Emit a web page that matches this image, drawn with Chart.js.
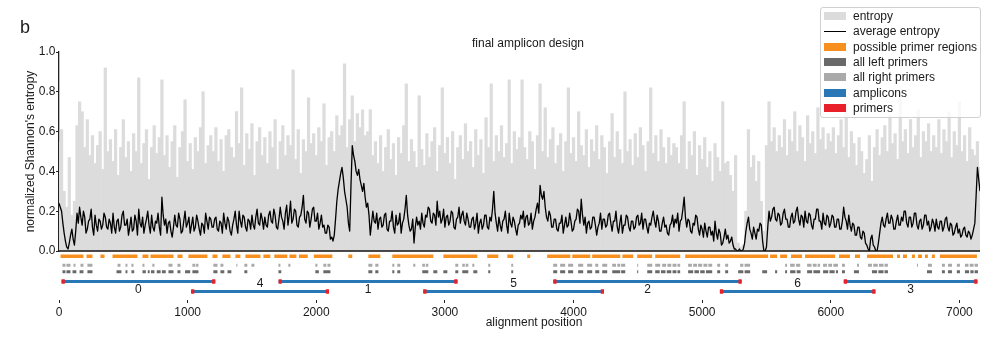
<!DOCTYPE html>
<html>
<head>
<meta charset="utf-8">
<title>final amplicon design</title>
<script src="https://cdn.jsdelivr.net/npm/chart.js@4/dist/chart.umd.min.js"></script>
<style>
  html, body { margin: 0; background: #fff; }
  #wrap { position: relative; width: 1006px; height: 340px; }
  #legend {
    position: absolute; left: 820px; top: 7px; width: 161px; height: 111px;
    box-sizing: border-box; padding: 0.5px 0 0 3px;
    border: 1px solid #d0d0d0; border-radius: 3px;
    background: rgba(255, 255, 255, 0.8);
    font: 12px 'Liberation Sans', Arial, sans-serif; color: #1a1a1a;
  }
  #legend .item { height: 15.33px; display: flex; align-items: center; white-space: nowrap; }
  #legend .swatch { display: inline-block; width: 22px; height: 8px; margin-right: 7px; }
  #legend .swatch.line { height: 1.4px; }
</style>
</head>
<body>
<div id="wrap"><canvas id="chart"></canvas><div id="legend"></div></div>
<script>
'use strict'

// entropy is binned: one value per 20 alignment positions
const binSize = 20
// the running average is sampled every 10 positions
const averageStep = 10

// normalized Shannon's entropy per bin (x100)
const entropy = [
  55, 61, 30, 22, 47, 18, 25, 63, 75, 70, 52, 66, 48, 58, 44, 53, 60, 41, 92, 50,
  56, 45, 61, 38, 52, 66, 47, 55, 40, 59, 50, 87, 44, 54, 61, 36, 52, 63, 49, 57,
  86, 48, 58, 42, 55, 63, 37, 52, 60, 76, 45, 54, 41, 57, 50, 62, 80, 44, 53, 58,
  50, 62, 45, 56, 40, 58, 61, 52, 47, 70, 54, 82, 43, 59, 51, 64, 38, 55, 62, 48,
  57, 44, 60, 52, 66, 41, 55, 63, 48, 58, 53, 91, 46, 61, 39, 56, 50, 77, 54, 59,
  48, 62, 55, 74, 43, 57, 60, 50, 68, 58, 63, 94, 52, 66, 78, 55, 69, 62, 71, 58,
  60, 71, 48, 55, 44, 58, 40, 52, 61, 46, 54, 38, 57, 49, 63, 84, 45, 56, 50, 42,
  78, 51, 43, 59, 47, 55, 62, 40, 53, 82, 49, 57, 44, 60, 36, 52, 58, 46, 64, 50,
  55, 42, 61, 48, 56, 39, 67, 52, 84, 45, 58, 50, 63, 47, 54, 86, 44, 60, 51, 57,
  86, 52, 46, 60, 55, 41, 58, 84, 50, 72, 47, 56, 62, 44, 53, 59, 40, 55, 82, 49,
  57, 45, 70, 53, 48, 61, 42, 56, 50, 63, 46, 58, 52, 39, 55, 69, 47, 60, 51, 44,
  80, 50, 56, 43, 59, 47, 62, 53, 40, 55, 82, 49, 58, 45, 61, 52, 44, 57, 48, 54,
  52, 44, 58, 75, 41, 55, 48, 60, 38, 53, 46, 57, 42, 50, 35, 54, 47, 40, 75, 44,
  45, 38, 30, 48, 4, 2, 3, 20, 61, 42, 48, 35, 45, 25, 10, 53, 75, 55, 62, 50,
  58, 52, 66, 48, 61, 55, 70, 50, 63, 57, 45, 68, 54, 60, 49, 72, 56, 62, 51, 59,
  55, 62, 49, 58, 66, 52, 74, 47, 60, 54, 43, 57, 50, 39, 46, 58, 35, 52, 61, 48,
  57, 63, 50, 68, 54, 59, 46, 80, 55, 61, 49, 66, 52, 58, 71, 47, 60, 55, 64, 50,
  58, 52, 66, 49, 61, 55, 70, 47, 60, 53, 75, 50, 58, 45, 62, 51, 48, 55, 42,
]

// running average of the entropy (x100), one row = 400 positions
const averageEntropy = [
  24, 22, 20, 14, 9, 5, 2, 1, 4, 8, 11, 6, 3, 10, 19, 14, 22, 17, 13, 20, 17, 9, 11, 15, 16, 21, 12, 8, 18, 13, 10, 16, 15, 11, 13, 19, 17, 12, 11, 16,
  14, 9, 19, 12, 9, 15, 16, 10, 12, 18, 20, 13, 13, 16, 8, 12, 17, 10, 11, 18, 15, 8, 21, 14, 12, 17, 9, 13, 16, 20, 13, 9, 18, 12, 10, 15, 14, 19, 12, 8,
  27, 18, 13, 16, 9, 14, 15, 10, 7, 12, 18, 13, 12, 19, 16, 9, 10, 15, 20, 12, 14, 17, 9, 13, 17, 10, 12, 18, 15, 11, 8, 14, 13, 9, 19, 15, 11, 17, 16, 12,
  12, 16, 17, 11, 10, 15, 14, 9, 19, 14, 11, 17, 15, 10, 8, 13, 16, 20, 13, 9, 20, 15, 12, 18, 17, 12, 10, 16, 15, 11, 18, 13, 11, 17, 21, 14, 13, 19, 16, 11,
  17, 13, 12, 18, 20, 15, 14, 21, 18, 12, 11, 16, 22, 17, 15, 11, 19, 23, 13, 18, 25, 14, 16, 21, 20, 13, 12, 17, 18, 22, 28, 16, 14, 20, 19, 12, 16, 21, 22, 15,
  15, 19, 11, 14, 18, 12, 13, 9, 9, 13, 12, 6, 7, 5, 8, 16, 25, 31, 35, 39, 42, 37, 30, 26, 22, 14, 10, 33, 53, 48, 45, 40, 38, 41, 36, 33, 30, 34, 27, 22,
  24, 18, 8, 14, 20, 15, 14, 19, 11, 16, 17, 12, 13, 18, 19, 11, 10, 15, 15, 20, 12, 9, 18, 13, 14, 19, 9, 14, 16, 21, 28, 18, 13, 10, 11, 16, 4, 12, 17, 13,
  15, 11, 19, 14, 12, 18, 17, 22, 21, 15, 14, 19, 18, 13, 25, 17, 20, 14, 16, 21, 12, 17, 18, 13, 15, 20, 19, 12, 11, 16, 17, 22, 14, 18, 20, 15, 13, 19, 16, 12,
  12, 16, 17, 11, 14, 19, 9, 14, 16, 11, 13, 18, 18, 12, 11, 17, 15, 21, 30, 19, 14, 10, 17, 13, 10, 15, 16, 20, 13, 9, 19, 14, 12, 17, 15, 11, 8, 13, 14, 18,
  16, 20, 12, 17, 18, 13, 14, 19, 11, 15, 17, 21, 24, 19, 33, 28, 26, 30, 22, 17, 15, 20, 18, 12, 12, 16, 16, 11, 10, 14, 14, 18, 9, 13, 17, 12, 13, 19, 15, 10,
  11, 15, 16, 21, 20, 14, 26, 18, 13, 17, 9, 14, 15, 11, 12, 17, 17, 13, 8, 12, 14, 19, 11, 16, 16, 12, 13, 18, 19, 14, 10, 15, 15, 20, 12, 9, 14, 18, 9, 13,
  13, 18, 17, 12, 10, 15, 15, 11, 12, 17, 18, 13, 14, 19, 11, 16, 16, 12, 9, 14, 13, 17, 20, 15, 12, 18, 15, 10, 10, 14, 17, 12, 13, 9, 8, 13, 14, 18, 12, 16,
  14, 19, 10, 15, 16, 21, 27, 17, 12, 16, 15, 10, 9, 14, 13, 18, 17, 11, 8, 13, 11, 7, 14, 10, 7, 12, 12, 8, 10, 5, 15, 9, 6, 11, 9, 3, 4, 7, 11, 6,
  8, 4, 5, 7, 3, 1, 1, 0, 0, 1, 0, 0, 1, 4, 10, 14, 17, 11, 9, 6, 12, 9, 6, 11, 10, 14, 13, 5, 0, 0, 2, 12, 20, 15, 17, 21, 22, 16, 15, 19,
  18, 13, 14, 19, 21, 16, 16, 12, 12, 17, 19, 14, 15, 20, 22, 16, 13, 18, 17, 12, 20, 15, 14, 19, 18, 13, 11, 16, 16, 21, 21, 15, 15, 11, 19, 14, 13, 18, 17, 12,
  14, 18, 17, 12, 12, 16, 16, 11, 11, 15, 22, 17, 15, 11, 18, 13, 10, 14, 13, 8, 8, 12, 12, 7, 6, 10, 9, 4, 3, 1, 0, 6, 8, 3, 2, 0, 0, 4, 9, 14,
  17, 13, 12, 16, 19, 14, 14, 18, 16, 11, 11, 15, 18, 13, 13, 17, 15, 20, 20, 14, 12, 17, 17, 12, 14, 19, 19, 13, 11, 15, 16, 11, 13, 18, 18, 13, 15, 10, 12, 16,
  14, 10, 16, 12, 11, 15, 15, 10, 12, 16, 17, 12, 10, 14, 13, 8, 9, 12, 14, 9, 11, 7, 8, 11, 12, 8, 7, 10, 9, 6, 8, 11, 14, 28, 42, 36, 30,
]

// [start, end] in alignment positions
const primerRegions = [
  [12, 190], [214, 260], [322, 354], [416, 610], [649, 695], [711, 890], [921, 960],
  [1006, 1154], [1193, 1232], [1270, 1333], [1371, 1410], [1449, 1566], [1589, 1643],
  [1674, 1775], [1791, 1845], [1865, 1934], [1981, 2125], [2249, 2280], [2405, 2498],
  [2591, 2910], [2988, 3252], [3329, 3415], [3485, 3531], [3640, 3663], [3795, 3975],
  [3990, 4130], [4145, 4363], [4380, 4464], [4495, 4611], [4635, 4829], [4868, 5513],
  [5528, 5583], [5606, 5660], [5691, 5777], [5800, 6033], [6064, 6149], [6188, 6227],
  [6282, 6484], [6515, 6538], [6561, 6592], [6631, 6654], [6678, 6709], [6732, 6755],
  [6786, 6809], [6848, 7136],
]

const leftPrimers = [
  [27, 50], [58, 89], [105, 135], [160, 190], [221, 260], [447, 485], [517, 532], [563, 585],
  [649, 675], [690, 705], [715, 742], [760, 790], [800, 830], [851, 890], [921, 944], [980, 1020],
  [1037, 1084], [1200, 1232], [1255, 1285], [1310, 1340], [1441, 1464], [1706, 1728], [1993, 2020],
  [2055, 2110], [2405, 2436], [2459, 2483], [2591, 2607], [2630, 2653], [2824, 2871], [2910, 2941],
  [2988, 3019], [3081, 3104], [3135, 3182], [3221, 3252], [3337, 3353], [3516, 3531], [3842, 3873],
  [3896, 3935], [3958, 3997], [4036, 4075], [4106, 4145], [4169, 4200], [4223, 4262], [4301, 4363],
  [4370, 4402], [4495, 4503], [4573, 4612], [4635, 4670], [4680, 4715], [4725, 4760], [4770, 4800],
  [4808, 4829], [4891, 4930], [4940, 4975], [4985, 5020], [5030, 5078], [5117, 5140], [5179, 5202],
  [5280, 5320], [5330, 5373], [5467, 5505], [5567, 5583], [5645, 5660], [5684, 5725], [5735, 5765],
  [5816, 5855], [5865, 5917], [5940, 5980], [5990, 6030], [6040, 6056], [6087, 6110], [6180, 6219],
  [6320, 6360], [6370, 6410], [6418, 6444], [6748, 6786], [6864, 6887], [6911, 6942], [6980, 7004],
  [7043, 7075], [7085, 7110], [7118, 7144],
]

const rightPrimers = [
  [27, 50], [58, 89], [113, 128], [167, 190], [221, 260], [455, 478], [517, 532], [563, 579],
  [649, 664], [726, 742], [851, 882], [921, 944], [1037, 1060], [1066, 1084], [1200, 1232],
  [1255, 1278], [1379, 1387], [1441, 1464], [1496, 1519], [1706, 1721], [1783, 1799], [1993, 2009],
  [2055, 2078], [2087, 2110], [2405, 2436], [2459, 2483], [2591, 2607], [2630, 2653], [2754, 2770],
  [2824, 2845], [2852, 2871], [3081, 3104], [3135, 3155], [3162, 3182], [3213, 3229], [3337, 3353],
  [3516, 3531], [3842, 3873], [3896, 3935], [3958, 3997], [4036, 4075], [4106, 4145], [4169, 4192],
  [4223, 4262], [4301, 4330], [4340, 4363], [4370, 4402], [4495, 4503], [4573, 4612], [4635, 4674],
  [4689, 4720], [4730, 4760], [4770, 4800], [4808, 4829], [4891, 4920], [4930, 4960], [4968, 5000],
  [5010, 5040], [5048, 5078], [5117, 5140], [5179, 5202], [5295, 5320], [5330, 5373], [5645, 5660],
  [5684, 5720], [5730, 5762], [5816, 5850], [5860, 5890], [5898, 5917], [5940, 5970], [5980, 6010],
  [6020, 6056], [6087, 6110], [6204, 6219], [6289, 6320], [6330, 6365], [6375, 6410], [6418, 6444],
  [6670, 6678], [6755, 6786], [6864, 6887], [6911, 6942], [6980, 7004], [7043, 7070], [7080, 7110],
  [7118, 7144],
]

// amplicons sorted by start, they alternate between two rows
const ampliconNames = ['0', '4', '1', '5', '2', '6', '3']
const ampliconStart = [20, 1027, 1707, 2832, 3843, 5138, 6101]
const ampliconEnd = [1215, 2099, 3098, 4237, 5307, 6347, 7140]
const primerLength = 25

const xTickValues = [0, 1000, 2000, 3000, 4000, 5000, 6000, 7000]
const yTickValues = [0, 0.2, 0.4, 0.6, 0.8, 1.0]

// track rows, in pixels below the zero line (scale 'yt')
const TRACK = {
  regions: 5.3,
  right: 14.3,
  left: 20.7,
  amplicon: [30.5, 40.5],
  label: [38.3, 32.7],
}

const FONT = "'Liberation Sans', Arial, sans-serif"
const TEXT = '#1a1a1a'

function spanPoints(spans, levelOf) {
  const pts = []
  spans.forEach((span, i) => {
    const level = typeof levelOf === 'function' ? levelOf(i) : levelOf
    pts.push({ x: span[0], y: level }, { x: span[1], y: level }, { x: span[1], y: null })
  })
  return pts
}

const positions = entropy.map((_, i) => i * binSize)
const averagePositions = averageEntropy.map((_, i) => i * averageStep)
const ampliconSpans = ampliconStart.map((s, i) => [s, ampliconEnd[i]])
const primerSpans = []
const primerRows = []
ampliconSpans.forEach(([s, e], i) => {
  primerSpans.push([s, s + primerLength], [e - primerLength, e])
  primerRows.push(i % 2, i % 2)
})

const trackLine = {
  type: 'line',
  yAxisID: 'yt',
  pointRadius: 0,
  pointHitRadius: 0,
  borderCapStyle: 'butt',
  spanGaps: false,
  fill: false,
  tension: 0,
}

// zero line, figure label, titles and amplicon numbers
const annotations = {
  id: 'annotations',
  afterDatasetsDraw(chart) {
    const { ctx, chartArea, scales } = chart
    const { x, y, yt } = scales
    ctx.save()
    const y0 = y.getPixelForValue(0)
    ctx.strokeStyle = '#111'
    ctx.lineWidth = 1.5
    ctx.beginPath()
    ctx.moveTo(chartArea.left, y0)
    ctx.lineTo(chartArea.right, y0)
    ctx.stroke()

    ctx.fillStyle = TEXT
    ctx.font = '12px ' + FONT
    ctx.textAlign = 'center'
    ctx.textBaseline = 'middle'
    ampliconNames.forEach((name, i) => {
      const mid = (ampliconStart[i] + ampliconEnd[i]) / 2
      ctx.fillText(name, x.getPixelForValue(mid), yt.getPixelForValue(TRACK.label[i % 2]))
    })
    ctx.restore()
  },
  afterDraw(chart) {
    const { ctx } = chart
    ctx.save()
    ctx.fillStyle = TEXT
    ctx.textAlign = 'left'
    ctx.textBaseline = 'alphabetic'
    ctx.font = '18px ' + FONT
    ctx.fillText('b', 20, 33)
    ctx.textAlign = 'center'
    ctx.textBaseline = 'middle'
    ctx.font = '12px ' + FONT
    ctx.fillText('final amplicon design', 528, 44)
    ctx.fillText('alignment position', 534, 323)
    ctx.restore()
  },
}

// legend as html, laid over the plot like the original
const htmlLegend = {
  id: 'htmlLegend',
  afterUpdate(chart) {
    const box = document.getElementById('legend')
    box.innerHTML = ''
    chart.data.datasets.forEach((ds) => {
      const item = document.createElement('div')
      item.className = 'item'
      const swatch = document.createElement('span')
      swatch.className = ds.legendLine ? 'swatch line' : 'swatch'
      swatch.style.background = ds.type === 'bar' ? ds.backgroundColor : ds.borderColor
      const text = document.createElement('span')
      text.textContent = ds.label
      item.append(swatch, text)
      box.appendChild(item)
    })
  },
}

Chart.defaults.font.family = FONT
Chart.defaults.font.size = 12
Chart.defaults.color = TEXT

new Chart(document.getElementById('chart'), {
  type: 'line',
  data: {
    datasets: [
      {
        type: 'bar',
        label: 'entropy',
        data: positions.map((x, i) => ({ x, y: entropy[i] / 100 })),
        backgroundColor: '#dcdcdc',
        borderWidth: 0,
        barPercentage: 1,
        categoryPercentage: 1,
        yAxisID: 'y',
        order: 4,
      },
      {
        type: 'line',
        label: 'average entropy',
        data: averagePositions.map((x, i) => ({ x, y: averageEntropy[i] / 100 })),
        borderColor: '#000',
        backgroundColor: '#000',
        borderWidth: 1.3,
        borderJoinStyle: 'round',
        pointRadius: 0,
        tension: 0,
        yAxisID: 'y',
        legendLine: true,
        order: 0,
      },
      {
        ...trackLine,
        label: 'possible primer regions',
        data: spanPoints(primerRegions, TRACK.regions),
        borderColor: '#f7901e',
        borderWidth: 3.5,
        order: 3,
      },
      {
        ...trackLine,
        label: 'all left primers',
        data: spanPoints(leftPrimers, TRACK.left),
        borderColor: '#696969',
        borderWidth: 3,
        order: 3,
      },
      {
        ...trackLine,
        label: 'all right primers',
        data: spanPoints(rightPrimers, TRACK.right),
        borderColor: '#a9a9a9',
        borderWidth: 3,
        order: 3,
      },
      {
        ...trackLine,
        label: 'amplicons',
        data: spanPoints(ampliconSpans, (i) => TRACK.amplicon[i % 2]),
        borderColor: '#2878b8',
        borderWidth: 3,
        order: 2,
      },
      {
        ...trackLine,
        label: 'primers',
        data: spanPoints(primerSpans, (i) => TRACK.amplicon[primerRows[i]]),
        borderColor: '#e8202a',
        borderWidth: 4.4,
        order: 1,
      },
    ],
  },
  options: {
    responsive: true,
    maintainAspectRatio: false,
    animation: false,
    events: [],
    layout: { padding: { top: 52, right: 26, bottom: 0, left: 0 } },
    scales: {
      x: {
        type: 'linear',
        min: 0,
        max: 7160,
        offset: false,
        afterBuildTicks: (scale) => {
          scale.ticks = xTickValues.map((value) => ({ value }))
        },
        afterFit: (scale) => {
          scale.height = 40
        },
        ticks: {
          callback: (v) => String(v),
          maxRotation: 0,
          autoSkip: false,
          padding: 2,
          color: TEXT,
        },
        grid: { offset: false, drawOnChartArea: false, tickLength: 3, color: '#222' },
        border: { display: false },
      },
      y: {
        type: 'linear',
        position: 'left',
        stack: 'left',
        stackWeight: 199,
        weight: 1,
        min: 0,
        max: 1,
        afterBuildTicks: (scale) => {
          scale.ticks = yTickValues.map((value) => ({ value }))
        },
        afterFit: (scale) => {
          scale.width = 59
        },
        ticks: {
          callback: (v) => v.toFixed(1),
          padding: 0.5,
          color: TEXT,
        },
        grid: { drawOnChartArea: false, tickLength: 3, color: '#222' },
        border: { color: '#222', width: 1.3 },
        title: {
          display: true,
          text: "normalized Shannon's entropy",
          padding: { top: 23, bottom: 0 },
          color: TEXT,
        },
      },
      yt: {
        type: 'linear',
        position: 'left',
        stack: 'left',
        stackWeight: 49,
        weight: 0,
        reverse: true,
        min: 0,
        max: 49,
        afterFit: (scale) => {
          scale.width = 59
        },
        ticks: { display: false },
        grid: { display: false },
        border: { display: false },
      },
    },
    plugins: {
      legend: { display: false },
      tooltip: { enabled: false },
    },
  },
  plugins: [annotations, htmlLegend],
})
</script>
</body>
</html>
